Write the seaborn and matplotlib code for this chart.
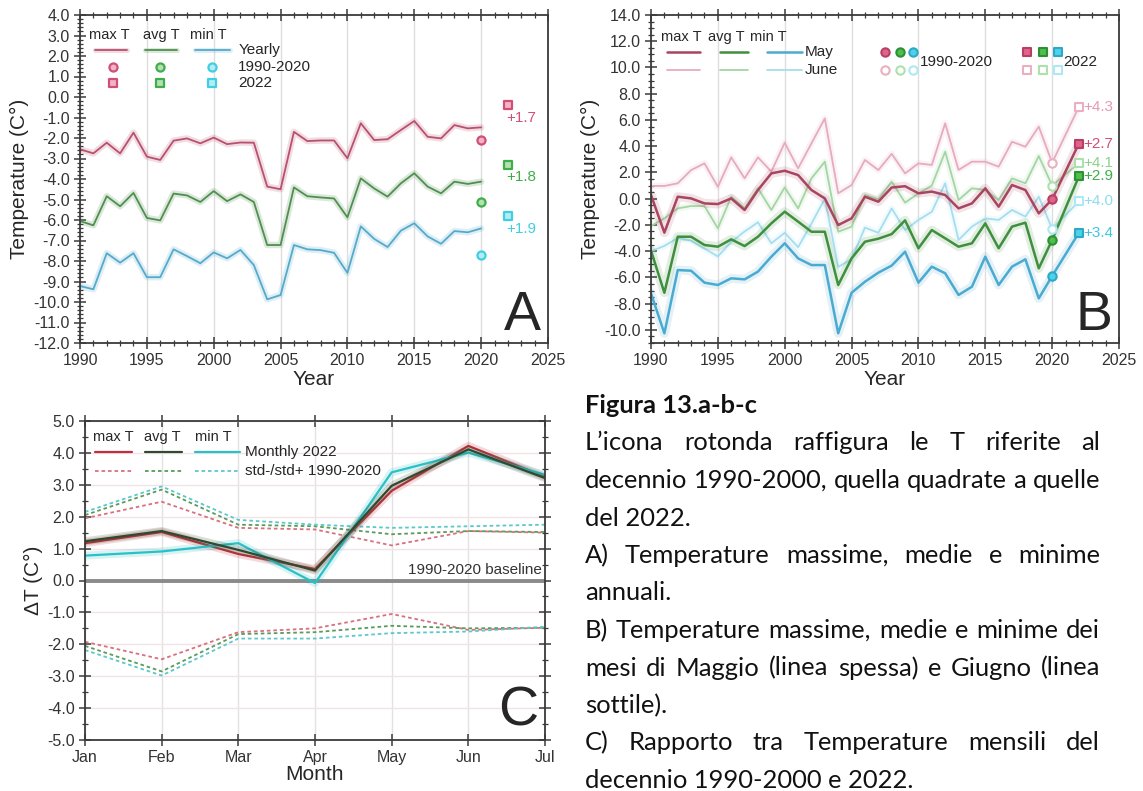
import matplotlib
matplotlib.use("Agg")
import matplotlib.pyplot as plt
from matplotlib.ticker import MultipleLocator, FuncFormatter, FixedLocator
import seaborn as sns

# ---------------------------------------------------------------- data
years = list(range(1990, 2021))

# A) yearly temperatures
yearly_max = [-2.55, -2.75, -2.23, -2.75, -1.74, -2.91, -3.07, -2.13, -2.02, -2.26,
              -1.98, -2.30, -2.22, -2.23, -4.37, -4.50, -1.70, -2.15, -2.12, -2.12,
              -2.99, -1.28, -2.10, -2.06, -1.61, -1.17, -1.94, -2.02, -1.37, -1.53, -1.48]
yearly_avg = [-6.05, -6.26, -4.84, -5.33, -4.68, -5.90, -6.02, -4.71, -4.80, -5.12,
              -4.59, -5.08, -4.75, -5.12, -7.22, -7.22, -4.41, -4.84, -4.90, -4.95,
              -5.87, -3.97, -4.46, -4.86, -4.21, -3.72, -4.37, -4.70, -4.13, -4.24, -4.13]
yearly_min = [-9.22, -9.38, -7.62, -8.08, -7.62, -8.79, -8.79, -7.43, -7.76, -8.11,
              -7.58, -7.87, -7.46, -8.20, -9.87, -9.66, -7.22, -7.43, -7.47, -7.60,
              -8.58, -6.31, -6.92, -7.32, -6.52, -6.16, -6.80, -7.16, -6.54, -6.60, -6.41]
yearly_ref = [-2.1, -5.1, -7.7]      # 1990-2020 (max, avg, min)
yearly_2022 = [-0.4, -3.3, -5.8]     # 2022 (max, avg, min)

# B) May (thick) and June (thin)
may_max = [0.28, -2.59, 0.15, 0.02, -0.36, -0.41, 0.02, -0.86, 0.66, 1.93,
           2.13, 1.80, 0.66, 0.02, -2.01, -1.50, 0.15, -0.23, 0.85, 0.95,
           0.41, 0.54, 0.28, -0.74, -0.36, 0.79, -0.61, 1.04, 0.66, -1.12, -0.05]
may_avg = [-3.96, -7.17, -2.90, -2.90, -3.53, -3.66, -3.10, -3.61, -2.90, -1.88,
           -0.99, -1.75, -2.52, -2.52, -6.58, -4.55, -3.28, -3.05, -2.70, -1.65,
           -3.78, -2.39, -3.02, -3.66, -3.40, -1.88, -3.78, -2.13, -1.83, -5.31, -3.15]
may_min = [-7.22, -10.26, -5.44, -5.49, -6.40, -6.58, -6.07, -6.15, -5.56, -4.42,
           -3.40, -4.55, -5.06, -5.06, -10.26, -7.17, -6.33, -5.64, -5.10, -4.04,
           -6.40, -5.18, -5.69, -7.34, -6.71, -4.42, -6.58, -5.18, -4.62, -7.60, -5.89]
jun_max = [0.97, 0.97, 1.17, 2.18, 2.69, 0.90, 3.15, 1.55, 3.15, 2.06,
           4.27, 2.31, 4.22, 6.12, 0.41, 1.04, 2.95, 2.18, 3.42, 1.93,
           2.69, 2.57, 5.74, 2.19, 2.82, 2.82, 2.44, 4.34, 3.96, 5.49, 2.74]
jun_avg = [-2.08, -1.50, -0.74, -0.56, -0.56, -2.26, 0.15, -0.74, 0.79, -0.86,
           0.86, -0.74, 1.55, 2.82, -2.52, -2.13, 0.28, -0.05, 1.30, -0.30,
           0.40, 1.00, 3.58, -0.10, 0.79, 0.66, -0.10, 1.55, 1.17, 3.25, 1.00]
jun_min = [-4.00, -3.60, -3.00, -3.20, -3.80, -4.40, -3.30, -2.50, -1.80, -3.40,
           -2.60, -3.70, -1.90, 0.00, -5.20, -4.60, -2.20, -2.60, -0.74, -2.39,
           -1.62, -1.00, 1.17, -3.15, -2.13, -1.50, -1.62, -0.86, -1.37, 0.15, -2.30]
may_ref = [-0.05, -3.15, -5.90]      # 1990-2020 (max, avg, min)
jun_ref = [2.74, 1.00, -2.30]
may_2022 = [4.2, 1.7, -2.6]
jun_2022 = [7.0, 2.7, -0.2]
may_delta = ["+2.7", "+2.9", "+3.4"]
jun_delta = ["+4.3", "+4.1", "+4.0"]

# C) monthly 2022 anomalies and 1990-2020 standard deviation bands
months = ["Jan", "Feb", "Mar", "Apr", "May", "Jun", "Jul"]
dt_max = [1.17, 1.52, 0.83, 0.36, 2.81, 4.22, 3.25]
dt_avg = [1.23, 1.55, 0.96, 0.31, 2.97, 4.11, 3.21]
dt_min = [0.78, 0.91, 1.17, -0.08, 3.39, 4.01, 3.31]
std_hi_max = [1.95, 2.47, 1.65, 1.60, 1.10, 1.55, 1.50]
std_hi_avg = [2.05, 2.85, 1.75, 1.70, 1.45, 1.55, 1.52]
std_hi_min = [2.15, 2.95, 1.90, 1.75, 1.65, 1.70, 1.75]
std_lo_max = [-1.92, -2.47, -1.62, -1.50, -1.05, -1.55, -1.48]
std_lo_avg = [-2.05, -2.85, -1.68, -1.62, -1.42, -1.50, -1.48]
std_lo_min = [-2.18, -2.98, -1.82, -1.82, -1.65, -1.60, -1.45]

caption = [
    ("Figura 13.a-b-c", "bold", False),
    ("L’icona rotonda raffigura le T riferite al", "normal", True),
    ("decennio 1990-2000, quella quadrate a quelle", "normal", True),
    ("del 2022.", "normal", False),
    ("A) Temperature massime, medie e minime", "normal", True),
    ("annuali.", "normal", False),
    ("B) Temperature massime, medie e minime dei", "normal", True),
    ("mesi di Maggio (linea spessa) e Giugno (linea", "normal", True),
    ("sottile).", "normal", False),
    ("C) Rapporto tra Temperature mensili del", "normal", True),
    ("decennio 1990-2000 e 2022.", "normal", False),
]

# ---------------------------------------------------------------- style
sns.set_theme(style="ticks")
plt.rcParams["font.family"] = ["Liberation Sans", "DejaVu Sans"]
plt.rcParams["axes.unicode_minus"] = False

TICK_FS = 11.5
LAB_FS = 15
LEG_FS = 11

A_LINE = ["#b9506f", "#4f8f4f", "#55aacb"]
A_FACE = ["#f2b3c4", "#b5e0b5", "#b5ecf4"]
A_EDGE = ["#d04f78", "#3fae48", "#3fcfe0"]

MAY_LINE = ["#a84560", "#3f8f3f", "#4aaad0"]
JUN_LINE = ["#e6abbd", "#a3d6a3", "#a5def0"]
MAY_FACE = ["#e0648a", "#4cbf4c", "#4cd2ec"]
MAY_EDGE = ["#b83e66", "#2f8f35", "#2fa8c4"]
JUN_EDGE = ["#eab0c2", "#ade0ad", "#aee8f4"]
B_TXT_MAY = ["#d04f78", "#3fae48", "#3fc6e0"]
B_TXT_JUN = ["#e69ab2", "#8fd08f", "#8fdcef"]

C_LINE = ["#c0303c", "#2f4a2f", "#29c1c6"]
C_DOT = ["#d8707e", "#5a9a5a", "#5cc8c8"]

FIG_W, FIG_H = 1143, 791
fig = plt.figure(figsize=(FIG_W / 100, FIG_H / 100), dpi=100)


def px_axes(x0, y0, x1, y1):
    return fig.add_axes([x0 / FIG_W, 1 - y1 / FIG_H, (x1 - x0) / FIG_W, (y1 - y0) / FIG_H])


def one_decimal(v, _pos):
    return f"{v + 0.0:.1f}"


def style_axes(ax):
    for s in ax.spines.values():
        s.set_color("#3a3a3a")
        s.set_linewidth(1.3)
    ax.tick_params(which="major", direction="inout", length=9, width=1.1,
                   colors="#3a3a3a", labelcolor="#333333", labelsize=TICK_FS, pad=3)
    ax.tick_params(which="minor", direction="inout", length=5, width=0.9, colors="#3a3a3a")
    ax.set_facecolor("white")


def glow_line(ax, x, y, color, lw, glow=0.2, ls="-"):
    sns.lineplot(x=x, y=y, ax=ax, color=color, lw=lw * 3.6, alpha=glow,
                 estimator=None, sort=False, legend=False, linestyle=ls)
    sns.lineplot(x=x, y=y, ax=ax, color=color, lw=lw,
                 estimator=None, sort=False, legend=False, linestyle=ls)


def year_axes(ax, ylo, yhi, ymaj, ymin):
    style_axes(ax)
    ax.set_xlim(1990, 2025)
    ax.set_ylim(ylo, yhi)
    ax.xaxis.set_major_locator(MultipleLocator(5))
    ax.xaxis.set_minor_locator(MultipleLocator(1))
    ax.yaxis.set_major_locator(MultipleLocator(ymaj))
    ax.yaxis.set_minor_locator(MultipleLocator(ymin))
    ax.yaxis.set_major_formatter(FuncFormatter(one_decimal))
    ax.tick_params(axis="x", which="both", top=True)
    ax.grid(axis="x", which="major", color="#dedede", lw=1.0)
    ax.set_axisbelow(True)
    ax.set_xlabel("Year", fontsize=LAB_FS, labelpad=1)
    ax.set_ylabel("Temperature (C°)", fontsize=LAB_FS, labelpad=3)


# ---------------------------------------------------------------- panel A
axA = px_axes(80, 15, 548, 343)
year_axes(axA, -12, 4, 1, 0.2)
for vals, col in zip([yearly_max, yearly_avg, yearly_min], A_LINE):
    glow_line(axA, years, vals, col, 1.3)
for i in range(3):
    sns.scatterplot(x=[2020], y=[yearly_ref[i]], ax=axA, marker="o", s=34,
                    color=A_FACE[i], edgecolor=A_EDGE[i], linewidth=1.6, legend=False, zorder=5)
    sns.scatterplot(x=[2022], y=[yearly_2022[i]], ax=axA, marker="s", s=40,
                    color=A_FACE[i], edgecolor=A_EDGE[i], linewidth=1.6, legend=False, zorder=5)
    delta = yearly_2022[i] - yearly_ref[i]
    axA.text(2021.9, yearly_2022[i] - 0.62, f"{delta:+.1f}", color=A_EDGE[i],
             fontsize=LEG_FS, ha="left", va="center")
axA.text(0.985, 0.04, "A", transform=axA.transAxes, fontsize=40, ha="right", va="baseline")

# legend block
for cx, name in zip([0.062, 0.173, 0.274], ["max T", "avg T", "min T"]):
    axA.text(cx, 0.939, name, transform=axA.transAxes, fontsize=LEG_FS - 0.5,
             ha="center", va="center")
for (x0, x1), col in zip([(0.032, 0.100), (0.139, 0.207), (0.246, 0.320)], A_LINE):
    axA.plot([x0, x1], [0.893, 0.893], transform=axA.transAxes, color=col, lw=3.6, alpha=0.2)
    axA.plot([x0, x1], [0.893, 0.893], transform=axA.transAxes, color=col, lw=1.3)
for mx, fc, ec in zip([0.070, 0.171, 0.282], A_FACE, A_EDGE):
    axA.scatter([mx], [0.841], transform=axA.transAxes, marker="o", s=34, color=fc,
                edgecolor=ec, linewidth=1.6)
    axA.scatter([mx], [0.793], transform=axA.transAxes, marker="s", s=40, color=fc,
                edgecolor=ec, linewidth=1.6)
for yy, lab in zip([0.893, 0.841, 0.793], ["Yearly", "1990-2020", "2022"]):
    axA.text(0.338, yy, lab, transform=axA.transAxes, fontsize=LEG_FS, ha="left", va="center")

# ---------------------------------------------------------------- panel B
axB = px_axes(651, 15, 1119, 343)
year_axes(axB, -11, 14, 2, 0.5)
b_years = years + [2022]
for vals, fin, col in zip([jun_max, jun_avg, jun_min], jun_2022, JUN_LINE):
    glow_line(axB, b_years, vals + [fin], col, 1.3, glow=0.15)
for vals, fin, col in zip([may_max, may_avg, may_min], may_2022, MAY_LINE):
    glow_line(axB, b_years, vals + [fin], col, 1.8, glow=0.15)
for i in range(3):
    sns.scatterplot(x=[2020], y=[jun_ref[i]], ax=axB, marker="o", s=36, color="white",
                    edgecolor=JUN_EDGE[i], linewidth=1.5, legend=False, zorder=5)
    sns.scatterplot(x=[2020], y=[may_ref[i]], ax=axB, marker="o", s=36, color=MAY_FACE[i],
                    edgecolor=MAY_EDGE[i], linewidth=1.5, legend=False, zorder=5)
    sns.scatterplot(x=[2022], y=[jun_2022[i]], ax=axB, marker="s", s=40, color="white",
                    edgecolor=JUN_EDGE[i], linewidth=1.5, legend=False, zorder=5)
    sns.scatterplot(x=[2022], y=[may_2022[i]], ax=axB, marker="s", s=40, color=MAY_FACE[i],
                    edgecolor=MAY_EDGE[i], linewidth=1.5, legend=False, zorder=5)
    axB.text(2022.35, jun_2022[i], jun_delta[i], color=B_TXT_JUN[i], fontsize=LEG_FS,
             ha="left", va="center")
    axB.text(2022.35, may_2022[i], may_delta[i], color=B_TXT_MAY[i], fontsize=LEG_FS,
             ha="left", va="center")
axB.text(0.985, 0.04, "B", transform=axB.transAxes, fontsize=40, ha="right", va="baseline")

for cx, name in zip([0.064, 0.160, 0.250], ["max T", "avg T", "min T"]):
    axB.text(cx, 0.933, name, transform=axB.transAxes, fontsize=LEG_FS - 0.5,
             ha="center", va="center")
for (x0, x1), cm, cj in zip([(0.034, 0.105), (0.147, 0.207), (0.248, 0.323)], MAY_LINE, JUN_LINE):
    axB.plot([x0, x1], [0.887, 0.887], transform=axB.transAxes, color=cm, lw=1.8)
    axB.plot([x0, x1], [0.832, 0.832], transform=axB.transAxes, color=cj, lw=1.3)
axB.text(0.329, 0.887, "May", transform=axB.transAxes, fontsize=LEG_FS, ha="left", va="center")
axB.text(0.329, 0.832, "June", transform=axB.transAxes, fontsize=LEG_FS, ha="left", va="center")
for k, mx in enumerate([0.500, 0.532, 0.560]):
    axB.scatter([mx], [0.887], transform=axB.transAxes, marker="o", s=36, color=MAY_FACE[k],
                edgecolor=MAY_EDGE[k], linewidth=1.5)
    axB.scatter([mx], [0.832], transform=axB.transAxes, marker="o", s=36, color="white",
                edgecolor=JUN_EDGE[k], linewidth=1.5)
for k, mx in enumerate([0.803, 0.838, 0.870]):
    axB.scatter([mx], [0.887], transform=axB.transAxes, marker="s", s=40, color=MAY_FACE[k],
                edgecolor=MAY_EDGE[k], linewidth=1.5)
    axB.scatter([mx], [0.832], transform=axB.transAxes, marker="s", s=40, color="white",
                edgecolor=JUN_EDGE[k], linewidth=1.5)
axB.text(0.575, 0.857, "1990-2020", transform=axB.transAxes, fontsize=LEG_FS, ha="left", va="center")
axB.text(0.880, 0.857, "2022", transform=axB.transAxes, fontsize=LEG_FS, ha="left", va="center")

# ---------------------------------------------------------------- panel C
axC = px_axes(85, 421, 545, 740)
style_axes(axC)
mx = list(range(len(months)))
axC.set_xlim(0, len(months) - 1)
axC.set_ylim(-5, 5)
axC.xaxis.set_major_locator(FixedLocator(mx))
axC.set_xticklabels(months)
axC.yaxis.set_major_locator(MultipleLocator(1))
axC.yaxis.set_minor_locator(MultipleLocator(0.5))
axC.yaxis.set_major_formatter(FuncFormatter(one_decimal))
axC.tick_params(axis="x", which="both", top=True)
axC.tick_params(axis="y", which="both", right=True)
axC.grid(axis="x", color="#e2e2e2", lw=1.0)
axC.grid(axis="y", color="#f1e3e6", lw=1.0)
axC.set_axisbelow(True)
axC.axhline(0, color="#8a8a8a", lw=2.8, zorder=2)

for hi, lo, col in zip([std_hi_max, std_hi_avg, std_hi_min],
                       [std_lo_max, std_lo_avg, std_lo_min], C_DOT):
    sns.lineplot(x=mx, y=hi, ax=axC, color=col, lw=1.3, linestyle=(0, (2, 1.6)),
                 estimator=None, sort=False, legend=False)
    sns.lineplot(x=mx, y=lo, ax=axC, color=col, lw=1.3, linestyle=(0, (2, 1.6)),
                 estimator=None, sort=False, legend=False)
for vals, col in zip([dt_max, dt_min, dt_avg], [C_LINE[0], C_LINE[2], C_LINE[1]]):
    glow_line(axC, mx, vals, col, 1.6, glow=0.18)

axC.text(5.96, 0.1, "1990-2020 baseline", fontsize=LEG_FS, ha="right", va="bottom", color="#333333")
axC.text(0.985, 0.045, "C", transform=axC.transAxes, fontsize=40, ha="right", va="baseline")
axC.set_xlabel("Month", fontsize=LAB_FS, labelpad=0)
axC.set_ylabel("ΔT (C°)", fontsize=LAB_FS, labelpad=3)

for cx, name in zip([0.061, 0.167, 0.278], ["max T", "avg T", "min T"]):
    axC.text(cx, 0.950, name, transform=axC.transAxes, fontsize=LEG_FS - 0.5,
             ha="center", va="center")
for (x0, x1), cl, cd in zip([(0.022, 0.102), (0.130, 0.211), (0.239, 0.337)], C_LINE, C_DOT):
    axC.plot([x0, x1], [0.903, 0.903], transform=axC.transAxes, color=cl, lw=1.6)
    axC.plot([x0, x1], [0.843, 0.843], transform=axC.transAxes, color=cd, lw=1.3,
             linestyle=(0, (2, 1.6)))
axC.text(0.348, 0.903, "Monthly 2022", transform=axC.transAxes, fontsize=LEG_FS,
         ha="left", va="center")
axC.text(0.348, 0.843, "std-/std+ 1990-2020", transform=axC.transAxes, fontsize=LEG_FS,
         ha="left", va="center")

# ---------------------------------------------------------------- caption (justified)
renderer = fig.canvas.get_renderer()
TXT_LEFT, TXT_RIGHT = 585, 1100
BASE0, LEAD = 413, 37.5
CAP_FONT = ["Lato", "DejaVu Sans"]


def text_width(s, size, weight):
    t = fig.text(0, 0, s, fontsize=size, family=CAP_FONT, weight=weight)
    w = t.get_window_extent(renderer).width
    t.remove()
    return w


ref_w = text_width(caption[6][0], 10, "normal")
cap_size = 10 * (TXT_RIGHT - TXT_LEFT) * 0.985 / ref_w

for i, (line, weight, justify) in enumerate(caption):
    yf = 1 - (BASE0 + LEAD * i) / FIG_H
    words = line.split(" ")
    if not justify or len(words) < 2:
        fig.text(TXT_LEFT / FIG_W, yf, line, fontsize=cap_size, family=CAP_FONT,
                 weight=weight, ha="left", va="baseline", color="#111111")
        continue
    widths = [text_width(w, cap_size, weight) for w in words]
    gap = (TXT_RIGHT - TXT_LEFT - sum(widths)) / (len(words) - 1)
    x = TXT_LEFT
    for w, wd in zip(words, widths):
        fig.text(x / FIG_W, yf, w, fontsize=cap_size, family=CAP_FONT, weight=weight,
                 ha="left", va="baseline", color="#111111")
        x += wd + gap

fig.savefig("out.png", dpi=100, facecolor="white")
